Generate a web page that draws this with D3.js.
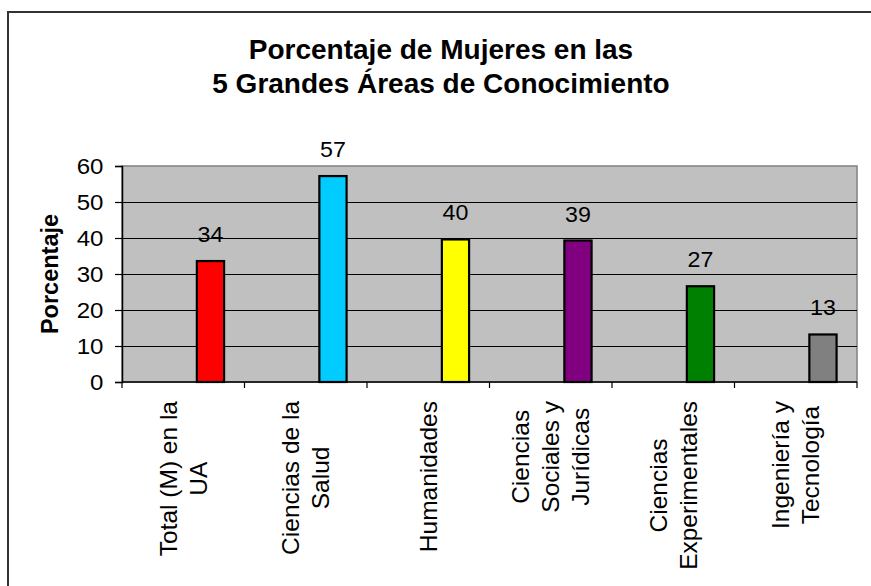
<!DOCTYPE html>
<html>
<head>
<meta charset="utf-8">
<script src="https://cdn.jsdelivr.net/npm/d3@7"></script>
<style>
  html, body { margin: 0; padding: 0; background: #fff; }
  svg { display: block; font-family: "Liberation Sans", Arial, sans-serif; }
</style>
</head>
<body>
<svg id="chart" width="871" height="586"></svg>
<script>
// ---- data ----
const categories = ["Total (M) en la UA", "Ciencias de la Salud", "Humanidades",
  "Ciencias Sociales y Jurídicas", "Ciencias Experimentales", "Ingeniería y Tecnología"];
const categoryLines = [
  ["Total (M) en la", "UA"],
  ["Ciencias de la", "Salud"],
  ["Humanidades"],
  ["Ciencias", "Sociales y", "Jurídicas"],
  ["Ciencias", "Experimentales"],
  ["Ingeniería y", "Tecnología"]
];
const values = [33.6, 57.2, 39.6, 39.3, 26.6, 13.2];
const valueLabels = ["34", "57", "40", "39", "27", "13"];
const barColors = ["#FF0000", "#00CCFF", "#FFFF00", "#800080", "#008000", "#808080"];
const yTicks = [0, 10, 20, 30, 40, 50, 60];
const seriesSlots = ["s1", "s2", "s3"];   // bars occupy the third slot of each category
const titleLines = ["Porcentaje de Mujeres en las", "5 Grandes Áreas de Conocimiento"];
const yTitle = "Porcentaje";

// ---- layout ----
const svg = d3.select("#chart");
const plot = { left: 122, right: 857, top: 166, bottom: 382 };

// outer chart-area border (extends past the window on right/bottom)
svg.append("rect")
  .attr("x", 8).attr("y", 12).attr("width", 900).attr("height", 700)
  .attr("fill", "#fff").attr("stroke", "#333").attr("stroke-width", 2);

const x = d3.scaleBand().domain(categories).range([plot.left, plot.right]).padding(0);
const slot = d3.scaleBand().domain(seriesSlots).range([0, x.bandwidth()])
  .paddingInner(0).paddingOuter(0.75);
const y = d3.scaleLinear().domain([0, 60]).range([plot.bottom, plot.top]);

// plot area
svg.append("rect")
  .attr("x", plot.left).attr("y", plot.top)
  .attr("width", plot.right - plot.left).attr("height", plot.bottom - plot.top)
  .attr("fill", "#C0C0C0").attr("stroke", "#808080").attr("stroke-width", 1.5);

// gridlines
svg.append("g").selectAll("line").data(yTicks.filter(d => d > 0 && d < 60)).join("line")
  .attr("x1", plot.left).attr("x2", plot.right)
  .attr("y1", d => Math.round(y(d)) + 0.5).attr("y2", d => Math.round(y(d)) + 0.5)
  .attr("stroke", "#000").attr("stroke-width", 1);

// y axis (labels drawn separately, slightly stretched as in the original)
const yAxis = d3.axisLeft(y).tickValues(yTicks).tickSize(7).tickFormat("");
const gy = svg.append("g").attr("transform", `translate(${plot.left},0)`).call(yAxis);
gy.select(".domain").attr("stroke", "#000").attr("stroke-width", 1.5);
gy.selectAll(".tick line").attr("stroke", "#000").attr("stroke-width", 1.2);
svg.append("g").selectAll("text").data(yTicks).join("text")
  .attr("transform", d => `translate(103.5,${y(d)}) scale(1.12,1)`)
  .attr("text-anchor", "end").attr("dy", "0.36em")
  .attr("font-size", 21.5).attr("fill", "#000")
  .text(d => d3.format("d")(d));

// x axis (ticks at category boundaries)
const gx = svg.append("g").attr("transform", `translate(0,${plot.bottom})`);
gx.append("line").attr("x1", plot.left).attr("x2", plot.right).attr("y1", 0).attr("y2", 0)
  .attr("stroke", "#000").attr("stroke-width", 1.5);
const boundaries = categories.map(c => x(c)).concat([x(categories[categories.length - 1]) + x.bandwidth()]);
gx.selectAll("line.tk").data(boundaries).join("line").attr("class", "tk")
  .attr("x1", d => d).attr("x2", d => d).attr("y1", 0).attr("y2", 6)
  .attr("stroke", "#000").attr("stroke-width", 1.2);

// bars
const barX = c => x(c) + slot("s3");
svg.append("g").selectAll("rect").data(categories).join("rect")
  .attr("x", c => barX(c)).attr("width", slot.bandwidth())
  .attr("y", (c, i) => y(values[i])).attr("height", (c, i) => y(0) - y(values[i]))
  .attr("fill", (c, i) => barColors[i]).attr("stroke", "#000").attr("stroke-width", 2.2);

// value labels
svg.append("g").selectAll("text").data(categories).join("text")
  .attr("transform", (c, i) => `translate(${barX(c) + slot.bandwidth() / 2},${y(values[i]) - 19}) scale(1.08,1)`)
  .attr("text-anchor", "middle").attr("font-size", 21.5).attr("fill", "#000")
  .text((c, i) => valueLabels[i]);

// category labels (rotated, lines centered, block top aligned under axis)
const labTop = 401, lineGap = 30, catFont = 24.5;
categories.forEach((c, i) => {
  const cx = x(c) + x.bandwidth() / 2;
  const g = svg.append("g");
  const lines = categoryLines[i];
  const texts = g.selectAll("text").data(lines).join("text")
    .attr("text-anchor", "middle").attr("dominant-baseline", "central")
    .attr("font-size", catFont).attr("fill", "#000")
    .attr("x", 0).attr("y", (d, j) => (j - (lines.length - 1) / 2) * lineGap)
    .text(d => d);
  let L = 0;
  texts.each(function () { L = Math.max(L, this.getComputedTextLength()); });
  g.attr("transform", `translate(${cx},${labTop + L / 2}) rotate(-90)`);
});

// y title
svg.append("text")
  .attr("transform", `translate(58,${(plot.top + plot.bottom) / 2}) rotate(-90)`)
  .attr("text-anchor", "middle")
  .attr("font-size", 23.5).attr("font-weight", "bold").attr("fill", "#000")
  .text(yTitle);

// title
svg.append("g").selectAll("text").data(titleLines).join("text")
  .attr("x", 441).attr("y", (d, i) => 59 + i * 34)
  .attr("text-anchor", "middle").attr("font-size", 28).attr("font-weight", "bold").attr("fill", "#000")
  .text(d => d);
</script>
</body>
</html>
